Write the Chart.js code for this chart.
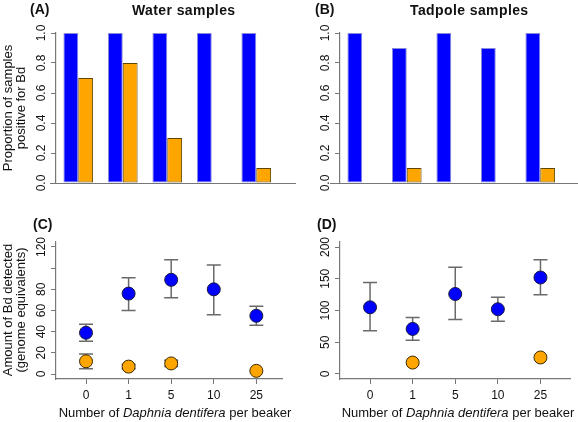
<!DOCTYPE html>
<html lang="en">
<head>
  <meta charset="UTF-8">
  <title>Bd detection with Daphnia dentifera</title>
  <script src="https://cdn.jsdelivr.net/npm/chart.js"></script>
  <style>
    body { margin: 0; background: #fff; font-family: Arial, "Liberation Sans", sans-serif; color: #111; }
    #fig { position: relative; width: 578px; height: 422px; overflow: hidden; }
    canvas { position: absolute; }
    .txt { position: absolute; white-space: nowrap; line-height: 1; }
    .tag { font-weight: bold; font-size: 14px; }
    .ttl { font-weight: bold; font-size: 14px; letter-spacing: 0.4px; }
    .ylab { font-size: 13px; line-height: 12.5px; text-align: center; transform: translate(-50%, -50%) rotate(-90deg); }
    .xlab { font-size: 13px; transform: translate(-50%, -50%); }
  </style>
</head>
<body>
<div id="fig">
  <canvas id="chartA" width="296" height="200" style="left:0;top:0"></canvas>
  <canvas id="chartB" width="289" height="200" style="left:289px;top:0"></canvas>
  <canvas id="chartC" width="290" height="222" style="left:0;top:200px"></canvas>
  <canvas id="chartD" width="289" height="222" style="left:289px;top:200px"></canvas>

  <div class="txt tag" style="left:30px;top:2px">(A)</div>
  <div class="txt ttl" style="left:132px;top:3px">Water samples</div>
  <div class="txt tag" style="left:315px;top:2px">(B)</div>
  <div class="txt ttl" style="left:410px;top:3px">Tadpole samples</div>
  <div class="txt tag" style="left:33px;top:217px">(C)</div>
  <div class="txt tag" style="left:317px;top:217px">(D)</div>

  <div class="txt ylab" style="left:14px;top:108px">Proportion of samples<br>positive for Bd</div>
  <div class="txt ylab" style="left:14px;top:310px">Amount of Bd detected<br>(genome equivalents)</div>
  <div class="txt xlab" style="left:175px;top:412px">Number of <i>Daphnia dentifera</i> per beaker</div>
  <div class="txt xlab" style="left:458px;top:412px">Number of <i>Daphnia dentifera</i> per beaker</div>
</div>

<script>
  // Daphnia per beaker
  const doses = ['0', '1', '5', '10', '25'];

  // (A) water samples, proportion positive
  const waterPropBlue = [1, 1, 1, 1, 1];
  const waterPropOrange = [0.7, 0.8, 0.3, 0, 0.1];
  // (B) tadpole samples, proportion positive
  const tadPropBlue = [1, 0.9, 1, 0.9, 1];
  const tadPropOrange = [0, 0.1, 0, 0, 0.1];

  // (C) water samples, genome equivalents (mean, lower, upper)
  const waterAmtBlue = [39, 76, 89, 80, 55];
  const waterLoBlue = [31, 60, 72, 56, 46];
  const waterHiBlue = [47, 91, 108, 103, 64];
  const waterAmtOrange = [12, 7, 10, null, 3];
  const waterLoOrange = [5, 5, 7, null, null];
  const waterHiOrange = [19, 9, 13, null, null];

  // (D) tadpole samples, genome equivalents
  const tadAmtBlue = [105, 71, 126, 102, 152];
  const tadLoBlue = [68, 53, 86, 83, 125];
  const tadHiBlue = [144, 89, 168, 121, 180];
  const tadAmtOrange = [null, 18, null, null, 26];

  // y tick marks and labels
  const propTicks = [0, 0.2, 0.4, 0.6, 0.8, 1];
  const propLabels = ['0.0', '0.2', '0.4', '0.6', '0.8', '1.0'];
  const waterTicks = [0, 20, 40, 60, 80, 100, 120];
  const waterLabels = ['0', '20', '40', '60', '80', '', '120'];
  const tadTicks = [0, 50, 100, 150, 200];
  const tadLabels = ['0', '50', '100', '150', '200'];

  const BLUE = '#0000ff';
  const ORANGE = '#ffa500';
  const AXIS = '#777777';
  const INK = '#111111';

  Chart.defaults.font.family = 'Arial, "Liberation Sans", sans-serif';
  Chart.defaults.animation = false;

  // R style rotated y labels, plus optional baseline for the bar panels
  const rAxis = {
    id: 'rAxis',
    afterDraw(chart, args, opts) {
      const ctx = chart.ctx;
      const y = chart.scales.y;
      const x0 = chart.chartArea.left - opts.offset;
      ctx.save();
      ctx.fillStyle = INK;
      ctx.font = '12px Arial, "Liberation Sans", sans-serif';
      ctx.textAlign = 'center';
      ctx.textBaseline = 'middle';
      opts.ticks.forEach((v, i) => {
        ctx.save();
        ctx.translate(x0, y.getPixelForValue(v));
        ctx.rotate(-Math.PI / 2);
        ctx.fillText(opts.labels[i], 0, 0);
        ctx.restore();
      });
      if (opts.baseline) {
        const yb = Math.round(y.getPixelForValue(0)) + 0.5;
        ctx.strokeStyle = AXIS;
        ctx.lineWidth = 1.2;
        ctx.beginPath();
        ctx.moveTo(opts.baseline[0], yb);
        ctx.lineTo(opts.baseline[1], yb);
        ctx.stroke();
      }
      ctx.restore();
    }
  };

  // error bars for the scatter panels
  const errBars = {
    id: 'errBars',
    beforeDatasetsDraw(chart, args, opts) {
      if (!opts.sets) return;
      const ctx = chart.ctx;
      const xs = chart.scales.x, ys = chart.scales.y;
      ctx.save();
      ctx.strokeStyle = '#6a6a6a';
      ctx.lineWidth = 1.5;
      opts.sets.forEach(set => {
        set.lo.forEach((lo, i) => {
          const hi = set.hi[i];
          if (lo == null || hi == null) return;
          const px = xs.getPixelForValue(i + 1);
          const pl = ys.getPixelForValue(lo), ph = ys.getPixelForValue(hi);
          ctx.beginPath();
          ctx.moveTo(px, pl); ctx.lineTo(px, ph);
          ctx.moveTo(px - 7, pl); ctx.lineTo(px + 7, pl);
          ctx.moveTo(px - 7, ph); ctx.lineTo(px + 7, ph);
          ctx.stroke();
        });
      });
      ctx.restore();
    }
  };

  function yAxisBase(min, max, ticks, width) {
    return {
      min: min,
      max: max,
      afterFit: s => { s.width = width; },
      afterBuildTicks: s => { s.ticks = ticks.map(v => ({ value: v })); },
      ticks: { display: false },
      grid: { drawOnChartArea: false, drawTicks: true, tickLength: 5, color: AXIS },
      border: { color: AXIS, width: 1.2 }
    };
  }

  function barChart(id, blue, orange, leftW, padRight, baseline) {
    return new Chart(document.getElementById(id), {
      type: 'bar',
      data: {
        labels: doses,
        datasets: [
          { data: blue, backgroundColor: BLUE, borderColor: '#8a8ad8', borderWidth: 1, borderSkipped: false },
          { data: orange, backgroundColor: ORANGE, borderColor: '#5e4600', borderWidth: 1, borderSkipped: false }
        ]
      },
      options: {
        responsive: false,
        categoryPercentage: 0.667,
        barPercentage: 1,
        layout: { padding: { left: 0, right: padRight, top: 33, bottom: 17 } },
        plugins: {
          legend: { display: false },
          tooltip: { enabled: false },
          rAxis: { offset: 14.5, ticks: propTicks, labels: propLabels, baseline: baseline }
        },
        scales: {
          x: { display: false },
          y: yAxisBase(0, 1, propTicks, leftW)
        }
      },
      plugins: [rAxis]
    });
  }

  function pts(vals) {
    return vals.map((v, i) => ({ x: i + 1, y: v })).filter(p => p.y != null);
  }

  function dotChart(id, blue, orange, errSets, yMin, yMax, ticks, labels, leftW, xMin, xMax) {
    return new Chart(document.getElementById(id), {
      type: 'scatter',
      data: {
        datasets: [
          { data: pts(blue), backgroundColor: BLUE, borderColor: '#1a1a40', borderWidth: 1, pointRadius: 6.5 },
          { data: pts(orange), backgroundColor: ORANGE, borderColor: '#3a2a00', borderWidth: 1, pointRadius: 6.5 }
        ]
      },
      options: {
        responsive: false,
        layout: { padding: { left: 0, right: 0, top: 42, bottom: 0 } },
        plugins: {
          legend: { display: false },
          tooltip: { enabled: false },
          rAxis: { offset: 14, ticks: ticks, labels: labels },
          errBars: { sets: errSets }
        },
        scales: {
          x: {
            type: 'linear',
            min: xMin,
            max: xMax,
            afterFit: s => { s.height = 43; },
            afterBuildTicks: s => { s.ticks = doses.map((d, i) => ({ value: i + 1 })); },
            ticks: { callback: v => doses[v - 1], font: { size: 12 }, color: INK, padding: 4, maxRotation: 0 },
            grid: { drawOnChartArea: false, tickLength: 5, color: AXIS },
            border: { color: AXIS, width: 1.2 }
          },
          y: yAxisBase(yMin, yMax, ticks, leftW)
        }
      },
      plugins: [errBars, rAxis]
    });
  }

  barChart('chartA', waterPropBlue, waterPropOrange, 56, 17.5, [50, 296]);
  barChart('chartB', tadPropBlue, tadPropOrange, 51, 15.5, [41, 289]);

  dotChart('chartC', waterAmtBlue, waterAmtOrange,
    [{ lo: waterLoBlue, hi: waterHiBlue }, { lo: waterLoOrange, hi: waterHiOrange }],
    -4.7, 124.7, waterTicks, waterLabels, 56, 0.295, 5.614);
  dotChart('chartD', tadAmtBlue, tadAmtOrange,
    [{ lo: tadLoBlue, hi: tadHiBlue }],
    -7.9, 207.9, tadTicks, tadLabels, 51, 0.295, 5.705);
</script>
</body>
</html>
